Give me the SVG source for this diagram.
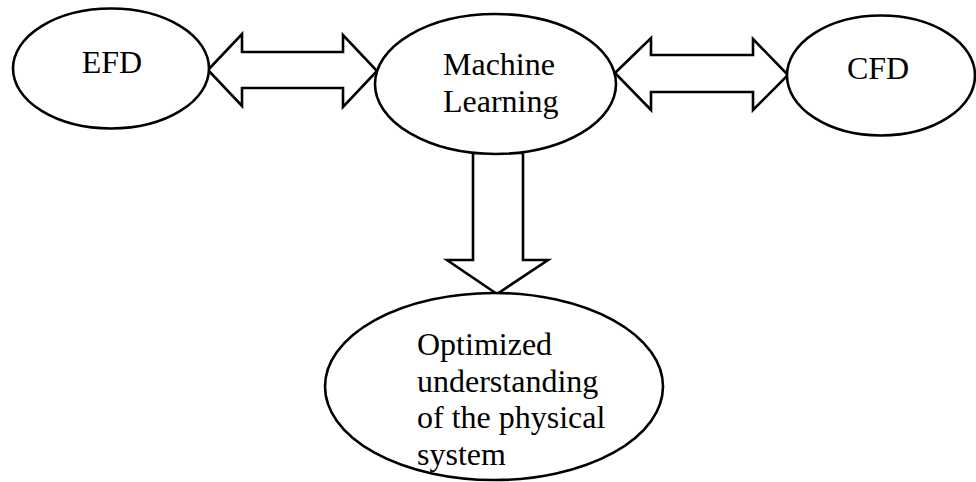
<svg xmlns="http://www.w3.org/2000/svg" width="976" height="482" viewBox="0 0 976 482">
<style>
.n{fill:#fff;stroke:#000;stroke-width:2.6}
.a{fill:#fff;stroke:#000;stroke-width:2.6;stroke-linejoin:miter}
text{font-family:"Liberation Serif","Times New Roman",serif;font-size:32px;fill:#000}
</style>
<rect width="976" height="482" fill="#fff"/>
<g id="connectors">
<polygon class="a" points="208,70 242,34 242,52 343,52 343,35 377,71 343,107 343,88 242,88 242,106"/>
<polygon class="a" points="615,73 651,38 651,55 753,55 753,39 788,75 753,110 753,92 651,92 651,110"/>
<polygon class="a" points="473,153 523,153 523,260 548,260 497,294 447,260 473,260"/>
</g>
<g id="efd">
<ellipse class="n" cx="111" cy="68.5" rx="98" ry="60"/>
<text x="112" y="73" text-anchor="middle">EFD</text>
</g>
<g id="ml">
<ellipse class="n" cx="495.5" cy="84" rx="120.5" ry="70"/>
<text x="443" y="75">Machine</text>
<text x="443" y="112">Learning</text>
</g>
<g id="cfd">
<ellipse class="n" cx="881" cy="75.5" rx="94" ry="60"/>
<text x="878" y="79" text-anchor="middle">CFD</text>
</g>
<g id="opt">
<ellipse class="n" cx="494" cy="386.5" rx="169" ry="93.5"/>
<text x="417" y="355">Optimized</text>
<text x="417" y="392">understanding</text>
<text x="417" y="428">of the physical</text>
<text x="417" y="465">system</text>
</g>
</svg>
